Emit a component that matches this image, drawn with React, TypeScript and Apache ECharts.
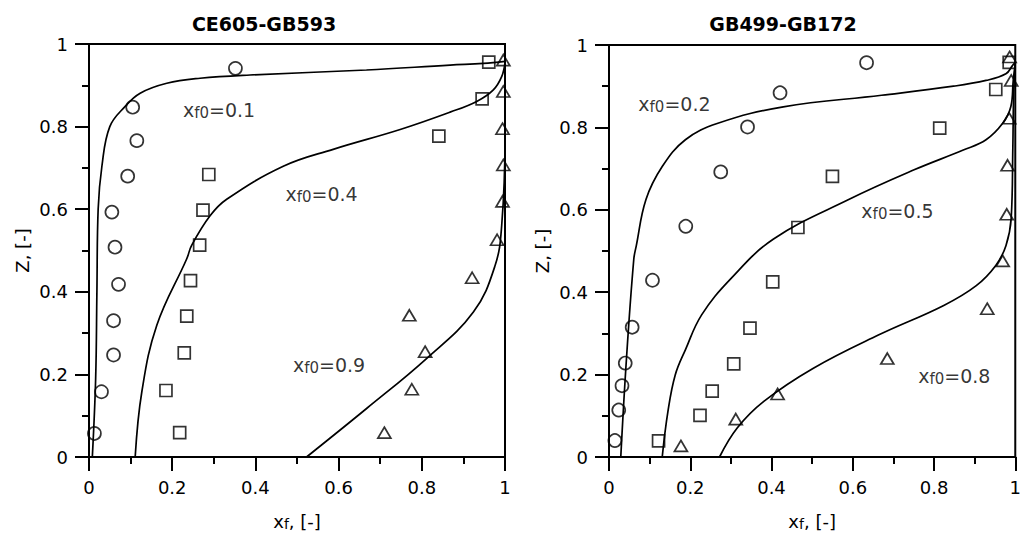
import React, { useEffect, useRef } from "react";
import * as echarts from "echarts";

// ---------- data ----------
const panelTitles = ["CE605-GB593", "GB499-GB172"];
const axisMin = 0;
const axisMax = 1;
const axisStep = 0.2;
const xAxisName = "{a|x}{b|f}{a|, [-]}";
const yAxisName = "Z, [-]";

// Left panel (CE605-GB593)
const leftCircles = [
  [0.352, 0.941], [0.105, 0.847], [0.115, 0.766], [0.093, 0.68], [0.055, 0.593], [0.0625, 0.508],
  [0.071, 0.418], [0.059, 0.33], [0.059, 0.247], [0.03, 0.158], [0.013, 0.057],
];
const leftSquares = [
  [0.961, 0.956], [0.945, 0.867], [0.841, 0.777], [0.288, 0.684], [0.274, 0.598], [0.266, 0.513],
  [0.244, 0.427], [0.235, 0.341], [0.229, 0.252], [0.185, 0.161], [0.218, 0.059],
];
const leftTriangles = [
  [0.996, 0.961], [0.996, 0.885], [0.994, 0.795], [0.996, 0.707], [0.994, 0.619], [0.981, 0.526],
  [0.921, 0.434], [0.77, 0.343], [0.808, 0.255], [0.776, 0.164], [0.71, 0.059],
];
const leftCurve01 = [
  [0.008, 0], [0.016, 0.19], [0.019, 0.4], [0.022, 0.6], [0.031, 0.704], [0.05, 0.8], [0.087, 0.849],
  [0.123, 0.881], [0.187, 0.905], [0.267, 0.917], [0.387, 0.925], [0.667, 0.937], [0.868, 0.949],
  [0.948, 0.953], [1, 0.958],
];
const leftCurve04 = [
  [0.111, 0], [0.127, 0.158], [0.163, 0.319], [0.235, 0.48], [0.247, 0.513], [0.291, 0.584],
  [0.331, 0.624], [0.467, 0.704], [0.587, 0.745], [0.748, 0.793], [0.868, 0.835], [0.932, 0.861],
  [0.972, 0.889], [0.992, 0.921], [1, 0.955],
];
const leftCurve09 = [
  [0.523, 0], [0.668, 0.118], [0.812, 0.239], [0.924, 0.351], [0.976, 0.463], [0.992, 0.56],
  [1, 0.77], [1, 0.958],
];
const leftNoteValues = ["0.1", "0.4", "0.9"];
const leftNoteAnchors = [[0.3125, 0.839], [0.559, 0.636], [0.577, 0.222]];

// Right panel (GB499-GB172)
const rightCircles = [
  [0.634, 0.957], [0.421, 0.884], [0.341, 0.801], [0.275, 0.692], [0.189, 0.56], [0.107, 0.429],
  [0.057, 0.315], [0.04, 0.228], [0.032, 0.173], [0.024, 0.114], [0.0145, 0.04],
];
const rightSquares = [
  [0.985, 0.958], [0.952, 0.892], [0.814, 0.798], [0.55, 0.681], [0.465, 0.557], [0.403, 0.425],
  [0.347, 0.313], [0.307, 0.226], [0.254, 0.16], [0.224, 0.101], [0.122, 0.039],
];
const rightTriangles = [
  [0.986, 0.971], [0.99, 0.914], [0.985, 0.822], [0.981, 0.708], [0.979, 0.589], [0.969, 0.476],
  [0.931, 0.36], [0.685, 0.239], [0.415, 0.153], [0.312, 0.092], [0.177, 0.027],
];
const rightCurve02 = [
  [0.029, 0], [0.043, 0.239], [0.061, 0.48], [0.067, 0.512], [0.091, 0.625], [0.131, 0.705],
  [0.188, 0.77], [0.268, 0.81], [0.429, 0.85], [0.671, 0.878], [0.848, 0.9], [0.928, 0.914],
  [0.977, 0.93], [0.993, 0.95], [1, 0.958],
];
const rightCurve05 = [
  [0.131, 0], [0.145, 0.11], [0.163, 0.199], [0.188, 0.26], [0.228, 0.345], [0.3, 0.433],
  [0.405, 0.529], [0.59, 0.625], [0.751, 0.697], [0.872, 0.745], [0.928, 0.77], [0.969, 0.81],
  [0.989, 0.85], [0.995, 0.914], [1, 0.955],
];
const rightCurve08 = [
  [0.272, 0], [0.316, 0.071], [0.381, 0.135], [0.502, 0.215], [0.663, 0.296], [0.824, 0.368],
  [0.904, 0.416], [0.952, 0.465], [0.977, 0.513], [0.99, 0.58], [0.994, 0.75], [0.996, 0.88],
  [1, 0.958],
];
const rightNoteValues = ["0.2", "0.5", "0.8"];
const rightNoteAnchors = [[0.161, 0.857], [0.71, 0.597], [0.85, 0.196]];

// ---------- styling ----------
const FONT = "'DejaVu Sans', sans-serif";
const BLACK = "#000";

const axisNameRich = {
  a: { fontFamily: FONT, fontSize: 18, color: BLACK },
  b: { fontFamily: FONT, fontSize: 14, color: BLACK, padding: [6, 0, 0, 0] },
};
const noteRich = {
  a: { fontFamily: FONT, fontSize: 19, color: BLACK },
  b: { fontFamily: FONT, fontSize: 15, color: BLACK, padding: [6, 0, 0, 0] },
};

function makeAxes(idx: number, isX: boolean) {
  return {
    type: "value",
    gridIndex: idx,
    min: axisMin,
    max: axisMax,
    interval: axisStep,
    name: isX ? xAxisName : yAxisName,
    nameLocation: "middle",
    nameGap: isX ? 54 : 58,
    nameTextStyle: isX
      ? { rich: axisNameRich }
      : { fontFamily: FONT, fontSize: 18, color: BLACK },
    axisLine: { show: true, onZero: false, lineStyle: { color: BLACK, width: 2 } },
    axisTick: { show: true, inside: false, length: 14, lineStyle: { color: BLACK, width: 2 } },
    minorTick: { show: true, splitNumber: 2, length: 7, lineStyle: { color: BLACK, width: 2 } },
    axisLabel: { fontFamily: FONT, fontSize: 18, color: BLACK, margin: 21 },
    splitLine: { show: false },
    minorSplitLine: { show: false },
  };
}

function scatter(idx: number, data: number[][], symbol: string, size: any) {
  return {
    type: "scatter",
    xAxisIndex: idx,
    yAxisIndex: idx,
    data,
    symbol,
    symbolSize: size,
    itemStyle: { color: "transparent", borderColor: BLACK, borderWidth: 1.7 },
    z: 3,
  };
}

function curve(idx: number, data: number[][]) {
  return {
    type: "line",
    xAxisIndex: idx,
    yAxisIndex: idx,
    data,
    smooth: 0.4,
    showSymbol: false,
    symbol: "none",
    lineStyle: { color: BLACK, width: 1.7 },
    z: 2,
  };
}

function notes(idx: number, anchors: number[][], values: string[]) {
  return {
    type: "scatter",
    xAxisIndex: idx,
    yAxisIndex: idx,
    data: anchors,
    symbolSize: 1,
    itemStyle: { color: "transparent" },
    silent: true,
    label: {
      show: true,
      position: "inside",
      formatter: (p: any) => `{a|x}{b|f0}{a|=${values[p.dataIndex]}}`,
      rich: noteRich,
    },
    z: 4,
  };
}

export default function App() {
  const ref = useRef<HTMLDivElement>(null);

  useEffect(() => {
    if (!ref.current) return;
    const chart = echarts.init(ref.current, null, { renderer: "svg" });
    const titleStyle = { fontFamily: FONT, fontSize: 19, fontWeight: "bold", color: BLACK };
    const option: any = {
      animation: false,
      backgroundColor: "#fff",
      title: [
        { text: panelTitles[0], left: 259, top: 9, textAlign: "center", textStyle: titleStyle },
        { text: panelTitles[1], left: 778, top: 9, textAlign: "center", textStyle: titleStyle },
      ],
      grid: [
        { left: 89, top: 44, width: 416, height: 415, show: true, borderColor: BLACK, borderWidth: 2, backgroundColor: "transparent" },
        { left: 609, top: 45, width: 413, height: 414, show: true, borderColor: BLACK, borderWidth: 2, backgroundColor: "transparent" },
      ],
      xAxis: [makeAxes(0, true), makeAxes(1, true)],
      yAxis: [makeAxes(0, false), makeAxes(1, false)],
      series: [
        curve(0, leftCurve01),
        curve(0, leftCurve04),
        curve(0, leftCurve09),
        scatter(0, leftCircles, "circle", 13),
        scatter(0, leftSquares, "rect", 12),
        scatter(0, leftTriangles, "triangle", [13, 11]),
        notes(0, leftNoteAnchors, leftNoteValues),
        curve(1, rightCurve02),
        curve(1, rightCurve05),
        curve(1, rightCurve08),
        scatter(1, rightCircles, "circle", 13),
        scatter(1, rightSquares, "rect", 12),
        scatter(1, rightTriangles, "triangle", [13, 11]),
        notes(1, rightNoteAnchors, rightNoteValues),
      ],
    };
    chart.setOption(option);
    return () => chart.dispose();
  }, []);

  return (
    <div
      ref={ref}
      style={{ position: "fixed", left: 0, top: 0, width: 1024, height: 536, background: "#fff" }}
    />
  );
}
